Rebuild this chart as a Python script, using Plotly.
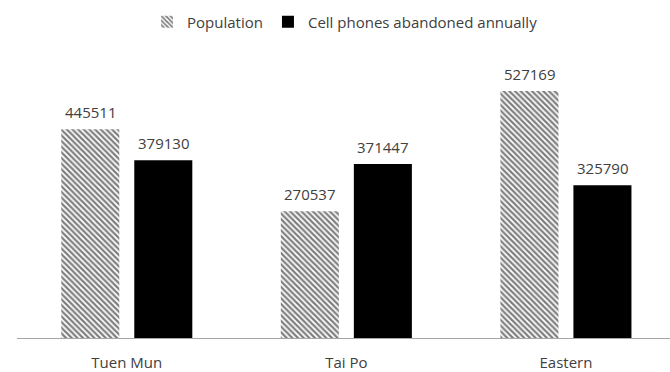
import plotly.graph_objects as go

# District data
districts = ["Tuen Mun", "Tai Po", "Eastern"]
population = [445511, 270537, 527169]
phones_abandoned = [379130, 371447, 325790]

FONT = "Open Sans"
TEXT_COLOR = "#404040"

W, H = 670, 372
M_L, M_R, M_T, M_B = 17, 0, 40, 28
X_RANGE = [-0.5, 2.474]
Y_RANGE = [0, 636000]
BARGAP = 0.335
BARGROUPGAP = 0.205

fig = go.Figure()
fig.add_trace(go.Bar(
    name="Population",
    x=districts,
    y=population,
    marker=dict(
        color="white",
        line=dict(width=0),
        pattern=dict(shape="\\", size=4, solidity=0.55, fgcolor="black", bgcolor="white"),
    ),
))
fig.add_trace(go.Bar(
    name="Cell phones abandoned annually",
    x=districts,
    y=phones_abandoned,
    marker=dict(color="black", line=dict(width=0)),
))

# Value labels above each bar
plot_w = W - M_L - M_R
px_per_cat = plot_w / (X_RANGE[1] - X_RANGE[0])
slot_px = px_per_cat * (1 - BARGAP) / 2
for series, shift in ((population, -slot_px / 2), (phones_abandoned, slot_px / 2)):
    for d, v in zip(districts, series):
        fig.add_annotation(
            x=d, y=v, text=str(v), showarrow=False,
            xshift=shift, yshift=5, yanchor="bottom",
            font=dict(family=FONT, size=15, color=TEXT_COLOR),
        )

fig.update_layout(
    width=W, height=H,
    margin=dict(l=M_L, r=M_R, t=M_T, b=M_B),
    paper_bgcolor="white", plot_bgcolor="white",
    barmode="group", bargap=BARGAP, bargroupgap=BARGROUPGAP,
    font=dict(family=FONT, size=15, color=TEXT_COLOR),
    showlegend=True,
    legend=dict(
        orientation="h",
        xref="container", yref="container",
        x=0.515, xanchor="center",
        y=1 - 22 / H, yanchor="middle",
        font=dict(family=FONT, size=15, color=TEXT_COLOR),
        itemwidth=30,
        bgcolor="rgba(0,0,0,0)",
    ),
    xaxis=dict(
        range=X_RANGE, showgrid=False, zeroline=False,
        showline=True, linecolor="#a6a6a6", linewidth=1,
        ticks="", ticklabelstandoff=11,
        tickfont=dict(family=FONT, size=15, color=TEXT_COLOR),
    ),
    yaxis=dict(range=Y_RANGE, visible=False, showgrid=False, zeroline=False),
)

fig.write_html("out.html")
